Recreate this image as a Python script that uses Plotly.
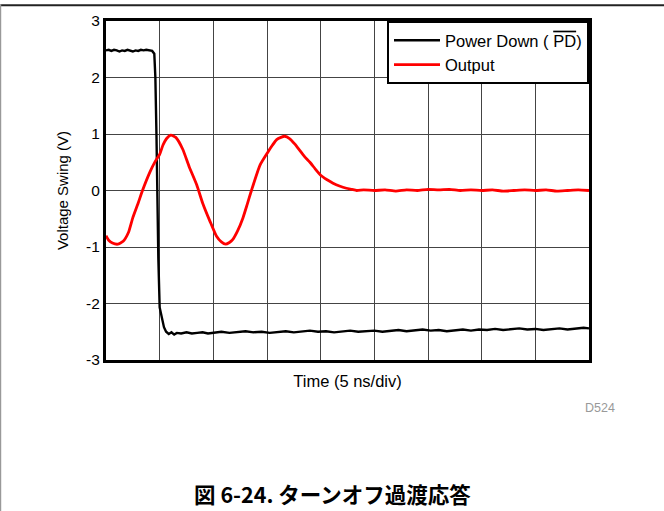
import plotly.graph_objects as go

# Time in divisions (5 ns/div), voltage in V
pd_t = [0.00, 0.05, 0.10, 0.15, 0.20, 0.25, 0.30, 0.35, 0.40, 0.45, 0.50, 0.55, 0.60, 0.65,
        0.70, 0.75, 0.80, 0.86, 0.90, 0.92, 0.94, 0.955, 0.975, 1.00, 1.04, 1.08, 1.12, 1.17,
        1.22, 1.27, 1.32, 1.40, 1.50, 1.60, 1.70, 1.80, 1.90, 2.00, 2.15, 2.30, 2.45, 2.60,
        2.75, 2.90, 3.05, 3.20, 3.35, 3.50, 3.65, 3.80, 3.95, 4.10, 4.25, 4.40, 4.55, 4.70,
        4.85, 5.00, 5.15, 5.30, 5.45, 5.60, 5.75, 5.90, 6.05, 6.20, 6.35, 6.50, 6.65, 6.80,
        6.95, 7.10, 7.25, 7.40, 7.55, 7.70, 7.85, 8.00, 8.15, 8.30, 8.45, 8.60, 8.75, 8.90, 9.00]
pd_v = [2.48, 2.49, 2.47, 2.49, 2.48, 2.46, 2.48, 2.47, 2.49, 2.47, 2.46, 2.48, 2.47, 2.49,
        2.48, 2.49, 2.48, 2.47, 2.42, 2.00, 1.00, 0.00, -1.20, -2.07, -2.26, -2.42, -2.50, -2.54,
        -2.51, -2.55, -2.52, -2.53, -2.51, -2.53, -2.52, -2.51, -2.53, -2.52, -2.50, -2.52, -2.51,
        -2.49, -2.51, -2.50, -2.52, -2.50, -2.49, -2.51, -2.50, -2.48, -2.50, -2.49, -2.51, -2.49,
        -2.48, -2.50, -2.49, -2.48, -2.50, -2.48, -2.47, -2.49, -2.48, -2.46, -2.48, -2.47, -2.49,
        -2.47, -2.46, -2.48, -2.46, -2.47, -2.45, -2.47, -2.46, -2.44, -2.46, -2.45, -2.47, -2.45,
        -2.44, -2.46, -2.45, -2.43, -2.44]

out_t = [0.00, 0.05, 0.12, 0.22, 0.32, 0.42, 0.50, 0.60, 0.68, 0.82, 0.92, 1.00, 1.06, 1.13,
         1.21, 1.30, 1.43, 1.55, 1.69, 1.80, 1.94, 2.06, 2.15, 2.23, 2.30, 2.36, 2.45, 2.55,
         2.63, 2.71, 2.87, 3.01, 3.10, 3.18, 3.26, 3.33, 3.42, 3.52, 3.61, 3.70, 3.80, 3.90,
         4.00, 4.12, 4.23, 4.35, 4.48, 4.58, 4.67, 4.80, 5.00, 5.20, 5.40, 5.60, 5.80, 6.00,
         6.20, 6.40, 6.60, 6.80, 7.00, 7.20, 7.40, 7.60, 7.80, 8.00, 8.20, 8.40, 8.60, 8.80, 9.00]
out_v = [-0.80, -0.88, -0.93, -0.95, -0.90, -0.74, -0.48, -0.22, 0.00, 0.33, 0.52, 0.64, 0.80,
         0.92, 0.98, 0.94, 0.73, 0.42, 0.10, -0.22, -0.55, -0.81, -0.91, -0.95, -0.92, -0.87,
         -0.72, -0.49, -0.25, 0.00, 0.45, 0.67, 0.80, 0.90, 0.94, 0.96, 0.92, 0.82, 0.71, 0.60,
         0.50, 0.38, 0.27, 0.19, 0.13, 0.08, 0.04, 0.02, 0.00, 0.01, 0.00, 0.01, -0.01, 0.01,
         0.00, 0.02, 0.01, 0.02, 0.00, 0.01, 0.00, 0.01, -0.01, 0.00, 0.01, 0.00, 0.01, -0.01,
         0.00, 0.01, 0.00]

y_ticks = [-3, -2, -1, 0, 1, 2, 3]
x_ticks = [0, 1, 2, 3, 4, 5, 6, 7, 8, 9]

FONT = "Liberation Sans, Arial, sans-serif"

fig = go.Figure()
fig.add_trace(go.Scatter(
    x=pd_t, y=pd_v, mode="lines",
    name='Power Down ( <span style="text-decoration:overline">PD</span>)',
    line=dict(color="black", width=2.4)))
fig.add_trace(go.Scatter(
    x=out_t, y=out_v, mode="lines", name="Output",
    line=dict(color="#ff0000", width=2.8, shape="spline", smoothing=0.5)))

fig.update_layout(
    width=664, height=511,
    margin=dict(l=106, r=75, t=17, b=151),
    paper_bgcolor="white", plot_bgcolor="white",
    font=dict(family=FONT, size=15.5, color="black"),
    showlegend=True,
    legend=dict(x=1, xanchor="right", y=1, yanchor="top",
                bgcolor="white", bordercolor="black", borderwidth=2,
                font=dict(family=FONT, size=16.5), tracegroupgap=0, itemwidth=46),
    xaxis=dict(range=[0, 9], tickvals=x_ticks, showticklabels=False,
               showgrid=True, gridcolor="#444", gridwidth=1.3,
               showline=True, linecolor="black", linewidth=3, mirror=True,
               zeroline=False, ticks="",
               title=dict(text="Time (5 ns/div)", standoff=14, font=dict(size=16.5))),
    yaxis=dict(range=[-3, 3], tickvals=y_ticks, ticktext=[str(v) for v in y_ticks],
               showgrid=True, gridcolor="#444", gridwidth=1.3,
               showline=True, linecolor="black", linewidth=3, mirror=True,
               zeroline=False, ticks="",
               title=dict(text="Voltage Swing (V)", standoff=14, font=dict(size=15))),
    shapes=[
        dict(type="line", xref="paper", yref="paper", x0=-0.22, x1=1.16, y0=1.0466, y1=1.0466,
             line=dict(color="#222", width=2)),
        dict(type="line", xref="paper", yref="paper", x0=-0.2185, x1=-0.2185, y0=1.05, y1=-0.45,
             line=dict(color="#999", width=1.5)),
    ],
    annotations=[
        dict(text="D524", xref="paper", yref="paper", x=1.023, y=-0.143,
             xanchor="center", yanchor="middle",
             showarrow=False, font=dict(family=FONT, size=12.5, color="#999")),
        dict(text="<b>図 6-24. ターンオフ過渡応答</b>", xref="paper", yref="paper",
             x=0.468, y=-0.394, xanchor="center", yanchor="middle", showarrow=False,
             font=dict(family="Noto Sans CJK JP, sans-serif", size=21.5, color="black")),
    ],
)

fig.write_html("out.html", config={"displayModeBar": False},
               post_script="document.body.style.margin='0';document.body.style.overflow='hidden';")
